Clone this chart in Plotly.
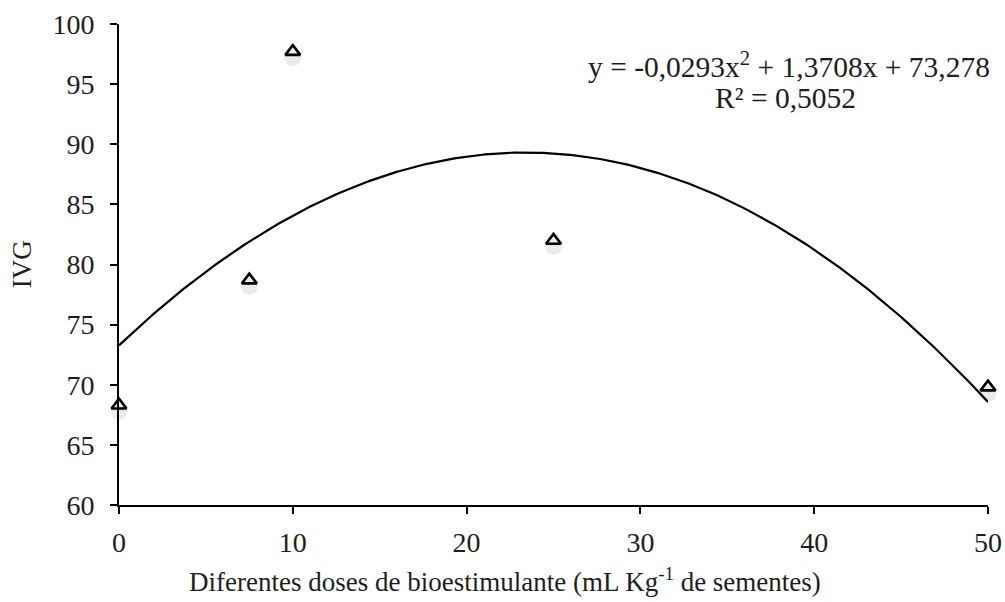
import numpy as np
import plotly.graph_objects as go

# Observed germination speed index (IVG) per bio-stimulant dose
doses = [0, 7.5, 10, 25, 50]
ivg = [68.3, 78.7, 97.7, 82.0, 69.8]

# Quadratic trend fitted to the observations
coef_a = -0.0293
coef_b = 1.3708
coef_c = 73.278
r_squared = 0.5052

x_ticks = [0, 10, 20, 30, 40, 50]
y_ticks = [60, 65, 70, 75, 80, 85, 90, 95, 100]

FONT = "Liberation Serif, Times New Roman, serif"
INK = "#1e1e1e"

x_fit = np.linspace(0, 50, 300)
y_fit = coef_a * x_fit**2 + coef_b * x_fit + coef_c

fig = go.Figure()

fig.add_trace(go.Scatter(
    x=x_fit, y=y_fit, mode="lines",
    line=dict(color="black", width=2.2),
    hoverinfo="skip", showlegend=False,
))

# soft drop shadow beneath each marker
fig.add_trace(go.Scatter(
    x=doses, y=[v - 0.5 for v in ivg], mode="markers",
    marker=dict(symbol="circle", size=17, color="rgba(0,0,0,0.08)",
                line=dict(width=0)),
    cliponaxis=False, hoverinfo="skip", showlegend=False,
))

fig.add_trace(go.Scatter(
    x=doses, y=ivg, mode="markers",
    marker=dict(symbol="triangle-up-open", size=13, color="black",
                line=dict(width=2.6, color="black")),
    cliponaxis=False, showlegend=False,
))

# regression equation and coefficient of determination
fig.add_annotation(
    x=0.771, y=0.915, xref="paper", yref="paper",
    xanchor="center", yanchor="middle", showarrow=False,
    text="y = -0,0293x<sup>2</sup> + 1,3708x + 73,278",
    font=dict(family=FONT, size=29.5, color=INK),
)
fig.add_annotation(
    x=0.767, y=0.846, xref="paper", yref="paper",
    xanchor="center", yanchor="middle", showarrow=False,
    text=f"R² = {str(r_squared).replace('.', ',')}",
    font=dict(family=FONT, size=29.5, color=INK),
)

# axis titles
fig.add_annotation(
    x=0.444, y=-0.156, xref="paper", yref="paper",
    xanchor="center", yanchor="middle", showarrow=False,
    text="Diferentes doses de bioestimulante (mL Kg<sup>-1</sup> de sementes)",
    font=dict(family=FONT, size=27, color=INK),
)
fig.add_annotation(
    x=-0.112, y=0.5, xref="paper", yref="paper",
    xanchor="center", yanchor="middle", showarrow=False, textangle=-90,
    text="IVG",
    font=dict(family=FONT, size=27, color=INK),
)

axis_style = dict(
    showgrid=False, zeroline=False, automargin=False,
    showline=True, linecolor="black", linewidth=2,
    ticks="outside", ticklen=7, tickwidth=2, tickcolor="black",
    tickfont=dict(family=FONT, size=28, color=INK),
)

fig.update_layout(
    width=1005, height=602,
    margin=dict(l=119, r=17, t=24, b=97),
    paper_bgcolor="white", plot_bgcolor="white",
    font=dict(family=FONT, size=27, color=INK),
    xaxis=dict(range=[0, 50], tickvals=x_ticks, ticklabelstandoff=4,
               **axis_style),
    yaxis=dict(range=[60, 100], tickvals=y_ticks, ticklabelstandoff=10,
               **axis_style),
)

fig.write_html("out.html")
